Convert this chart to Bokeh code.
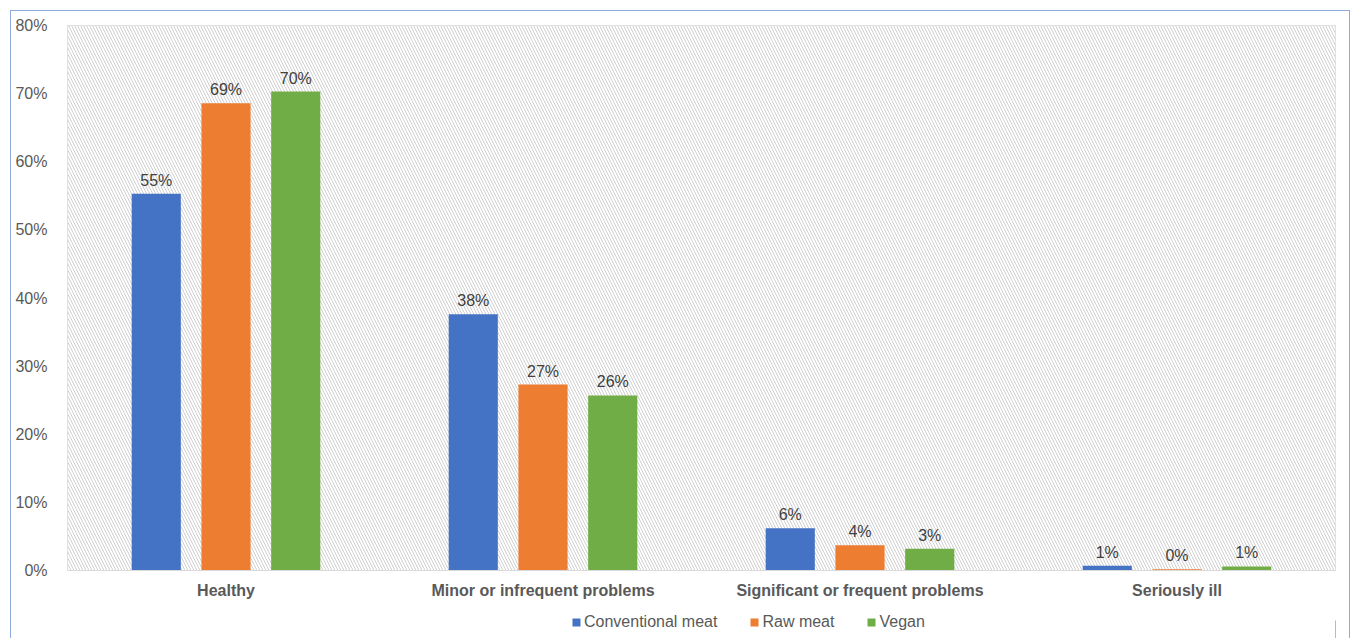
from bokeh.plotting import figure
from bokeh.layouts import column
from bokeh.models import (ColumnDataSource, FixedTicker, Legend, LegendItem,
                          BoxAnnotation, Range1d)
from bokeh.core.properties import value
from bokeh.embed import file_html
from bokeh.resources import INLINE

categories = ["Healthy", "Minor or infrequent problems",
              "Significant or frequent problems", "Seriously ill"]
series = ["Conventional meat", "Raw meat", "Vegan"]
conventional = [55.3, 37.6, 6.2, 0.7]
raw_meat = [68.6, 27.3, 3.7, 0.2]
vegan = [70.3, 25.7, 3.2, 0.6]
colors = ["#4472C4", "#ED7D31", "#70AD47"]
y_ticks = [0, 10, 20, 30, 40, 50, 60, 70, 80]

FONT = "Liberation Sans"
TXT = "#595959"

p = figure(frame_width=1268, frame_height=545,
           output_backend="svg", toolbar_location=None,
           x_range=Range1d(0, 4), y_range=Range1d(0, 80),
           min_border_left=56, min_border_right=14, min_border_top=14,
           min_border_bottom=32)
p.background_fill_color = "white"
p.border_fill_color = "white"
p.outline_line_color = "#D9D9D9"

# hatched plot area
p.add_layout(BoxAnnotation(left=0, right=4, bottom=0, top=80,
                           fill_color="white", fill_alpha=1.0,
                           hatch_pattern="left_diagonal_line",
                           hatch_color="#CFCFCF", hatch_scale=6,
                           hatch_weight=1, line_color=None, level="underlay"))

offsets = [-0.22, 0.0, 0.22]
bar_w = 0.155
for vals, off, col in zip([conventional, raw_meat, vegan], offsets, colors):
    xs = [i + 0.5 + off for i in range(len(categories))]
    src = ColumnDataSource(dict(x=xs, top=vals,
                                lab=[f"{round(v):d}%" for v in vals]))
    p.vbar(x="x", top="top", width=bar_w, source=src, fill_color=col,
           line_color=None)
    p.text(x="x", y="top", text="lab", source=src, text_align="center",
           text_baseline="bottom", y_offset=-5, text_font=value(FONT),
           text_font_size="16px", text_color="#404040")

# axes
p.yaxis.ticker = FixedTicker(ticks=y_ticks)
p.yaxis.major_label_overrides = {t: f"{t}%" for t in y_ticks}
p.yaxis.axis_line_color = None
p.yaxis.major_tick_line_color = None
p.yaxis.minor_tick_line_color = None
p.yaxis.major_label_text_font = FONT
p.yaxis.major_label_text_font_size = "16px"
p.yaxis.major_label_text_color = TXT
p.yaxis.major_label_standoff = 14

centers = [i + 0.5 for i in range(len(categories))]
p.xaxis.ticker = FixedTicker(ticks=centers)
p.xaxis.major_label_overrides = {c: n for c, n in zip(centers, categories)}
p.xaxis.axis_line_color = "#D9D9D9"
p.xaxis.major_tick_line_color = None
p.xaxis.minor_tick_line_color = None
p.xaxis.major_tick_out = 0
p.xaxis.major_tick_in = 0
p.xaxis.minor_tick_out = 0
p.xaxis.major_label_text_font = FONT
p.xaxis.major_label_text_font_size = "16px"
p.xaxis.major_label_text_font_style = "bold"
p.xaxis.major_label_text_color = TXT
p.xaxis.major_label_standoff = 11

p.ygrid.grid_line_color = "#D9D9D9"
p.xgrid.ticker = FixedTicker(ticks=[1, 2, 3])
p.xgrid.grid_line_color = "#D9D9D9"

# legend strip below the chart
lg = figure(width=1338, height=36, output_backend="svg", toolbar_location=None,
            x_range=Range1d(0, 1), y_range=Range1d(0, 1),
            min_border=0, min_border_left=0, min_border_right=0,
            min_border_top=0, min_border_bottom=0)
lg.axis.visible = False
lg.grid.visible = False
lg.outline_line_color = None
lg.background_fill_color = "white"
lg.border_fill_color = "white"
items = []
for name, col in zip(series, colors):
    # swatch renderer kept outside the visible range; only its legend glyph shows
    r = lg.vbar(x=[5], top=[0.5], width=0.1, fill_color=col, line_color=None)
    items.append(LegendItem(label=name, renderers=[r]))
legend = Legend(items=items, orientation="horizontal", location=(504, 7),
                label_text_font=FONT, label_text_font_size="16px",
                label_text_color=TXT, glyph_width=10, glyph_height=10,
                label_standoff=3, spacing=32, border_line_color=None,
                background_fill_alpha=0, padding=0, margin=0)
lg.add_layout(legend, "center")

layout = column(p, lg, spacing=0,
                styles={"border": "1px solid #8FAADC", "margin": "10px 0 0 10px"})

open("out.html", "w").write(file_html(layout, INLINE))
